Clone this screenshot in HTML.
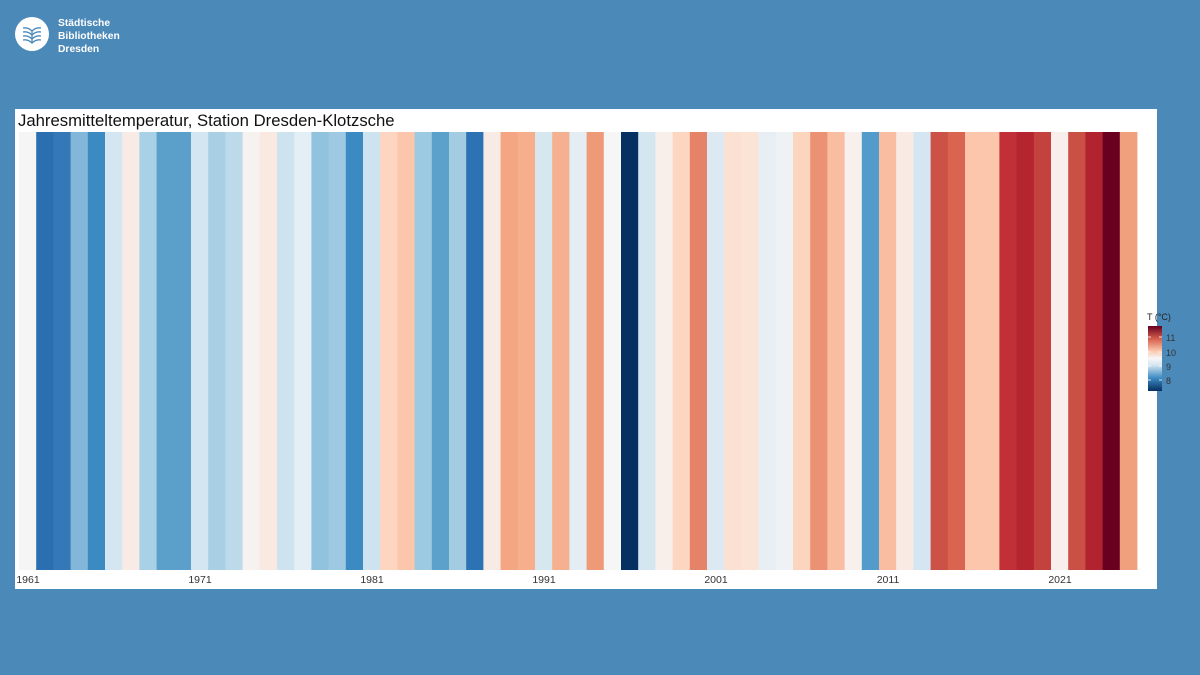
<!DOCTYPE html>
<html><head><meta charset="utf-8"><style>
html,body{margin:0;padding:0;width:1200px;height:675px;overflow:hidden;background:#4b89b9;}
svg{display:block;font-family:"Liberation Sans",Arial,sans-serif;}
</style></head><body>
<svg width="1200" height="675" viewBox="0 0 1200 675" xmlns="http://www.w3.org/2000/svg">
<defs>
<linearGradient id="cb" x1="0" y1="1" x2="0" y2="0">
<stop offset="0" stop-color="#053061"/>
<stop offset="0.2" stop-color="#3c8ac2"/>
<stop offset="0.4" stop-color="#d4e6f1"/>
<stop offset="0.5" stop-color="#f7f7f7"/>
<stop offset="0.62" stop-color="#fbc6ab"/>
<stop offset="0.8" stop-color="#d6604d"/>
<stop offset="1" stop-color="#67001f"/>
</linearGradient>
</defs>
<rect width="1200" height="675" fill="#4b89b9"/>
<circle cx="32" cy="34" r="17" fill="#fff"/>
<g stroke="#4b89b9" stroke-width="1.3" fill="none">
<path d="M23 28 Q28 27 32 31 Q36 27 41 28"/>
<path d="M23 32 Q28 31 32 35 Q36 31 41 32"/>
<path d="M23 36 Q28 35 32 39 Q36 35 41 36"/>
<path d="M23 40 Q28 39 32 43 Q36 39 41 40"/>
<path d="M32 31 L32 43"/>
</g>
<g fill="#fff" font-size="10.3" font-weight="bold">
<text x="58" y="26">Städtische</text>
<text x="58" y="39">Bibliotheken</text>
<text x="58" y="52">Dresden</text>
</g>
<rect x="15" y="109" width="1142" height="480" fill="#fff"/>
<text x="18" y="126" font-size="16.7" fill="#111">Jahresmitteltemperatur, Station Dresden-Klotzsche</text>
<g id="stripes"></g>
<g font-size="10.5" fill="#333" text-anchor="middle">
<text x="28" y="583">1961</text>
<text x="200" y="583">1971</text>
<text x="372" y="583">1981</text>
<text x="544" y="583">1991</text>
<text x="716" y="583">2001</text>
<text x="888" y="583">2011</text>
<text x="1060" y="583">2021</text>
</g>
<text x="1147" y="320" font-size="9" fill="#222">T (°C)</text>
<rect x="1148" y="326" width="14" height="65" fill="url(#cb)"/>
<g stroke="#fff" stroke-width="0.8">
<line x1="1148" y1="337" x2="1151" y2="337"/><line x1="1159" y1="337" x2="1162" y2="337"/>
<line x1="1148" y1="352" x2="1151" y2="352"/><line x1="1159" y1="352" x2="1162" y2="352"/>
<line x1="1148" y1="366" x2="1151" y2="366"/><line x1="1159" y1="366" x2="1162" y2="366"/>
<line x1="1148" y1="380" x2="1151" y2="380"/><line x1="1159" y1="380" x2="1162" y2="380"/>
</g>
<g font-size="9" fill="#333">
<text x="1166" y="341">11</text>
<text x="1166" y="356">10</text>
<text x="1166" y="370">9</text>
<text x="1166" y="384">8</text>
</g>
</svg>
<script>
var c=["#f5f5f5","#2b6fb0","#3478b8","#82b7d9","#3c8ac2","#d4e6f1","#f8ebe5","#a8d0e6","#5ba0cb","#5ba0cb",
"#d4e6f1","#a8cfe4","#bcdaea","#f6f2f0","#fae9e0","#cde3ef","#e4eef5","#92c3de","#9ec9e2","#3c8ac2",
"#cde3ef","#fdd5c0","#fbc6ab","#9ccae2","#5ba1cc","#a3cce3","#2d72b3","#f8ebe5","#f4a683","#f6ae8d",
"#d6e7f0","#f5b090","#e4edf4","#ee9a78","#f6f6f6","#053061","#d4e6f0","#f8efeb","#fcd6c1","#e58368",
"#dce9f2","#fce0d1","#fbe3d6","#e7eff4","#eef2f5","#fcd5bf","#ec9274","#f9bda1","#f8f0ec","#529bca",
"#f9bea2","#f9eae3","#d4e6f1","#cc5147","#d96550","#fbc6ab","#fbc6ab","#c03036","#b42530","#c4423e",
"#f8efec","#ca4f45","#b1242f","#6a0020","#f0a07d"];
var g=document.getElementById("stripes"),s="",w=17.2;
for(var i=0;i<c.length;i++){s+='<rect x="'+(19+i*w).toFixed(2)+'" y="132" width="'+(w+0.4).toFixed(2)+'" height="438" fill="'+c[i]+'"/>';}
g.innerHTML=s;
</script>
</body></html>
